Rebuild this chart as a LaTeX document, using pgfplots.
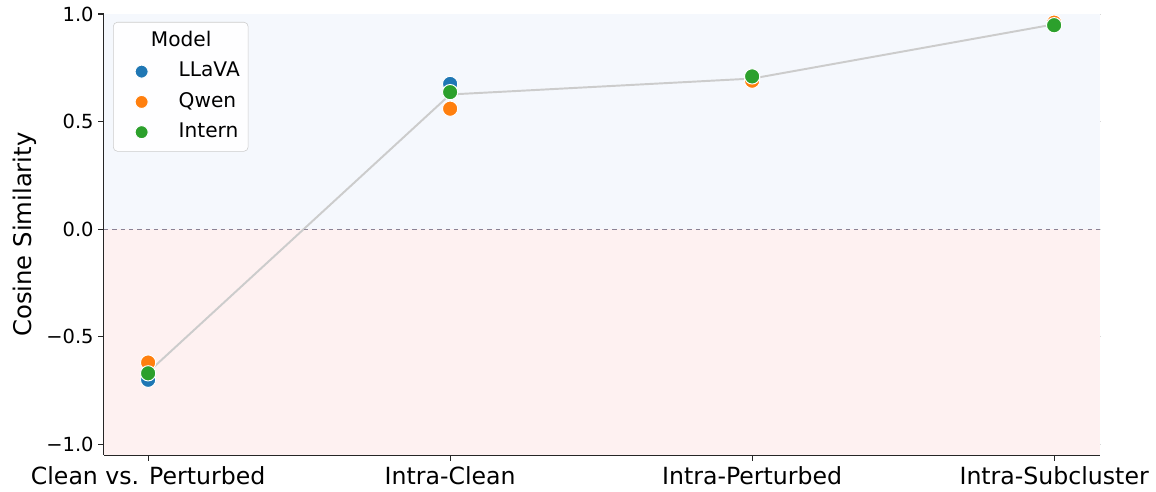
\documentclass[border=0pt]{standalone}
\usepackage{fontspec}
\setmainfont{DejaVu Sans}
\usepackage{pgfplots}
\pgfplotsset{compat=1.18}
\definecolor{cLL}{HTML}{1F77B4}
\definecolor{cQW}{HTML}{FF7F0E}
\definecolor{cIN}{HTML}{2CA02C}
\definecolor{bgblue}{HTML}{F5F8FD}
\definecolor{bgpink}{HTML}{FEF1F1}
\definecolor{zline}{HTML}{8A8295}
\definecolor{meanline}{HTML}{CCCCCC}
\pgfplotsset{mylegimg/.style={legend image code/.code={\draw[##1, mark size=4.7pt] plot coordinates {(0pt,0pt)}; \path (-16.2pt,0pt);}}}
\begin{document}
\begin{tikzpicture}
\begin{axis}[
  name=ax,
  scale only axis,
  width=717pt, height=317.5pt,
  xmin=-0.146, xmax=3.152,
  ymin=-1.05, ymax=1.0,
  axis lines*=left,
  axis line style={black!85, line width=0.9pt},
  xtick={0,1,2,3},
  xticklabels={Clean vs. Perturbed, Intra-Clean, Intra-Perturbed, Intra-Subcluster},
  ytick={-1,-0.5,0,0.5,1},
  yticklabels={−1.0,−0.5,0.0,0.5,1.0},
  /pgf/number format/assume math mode=true,
  tick align=outside,
  major tick length=4pt,
  tick style={black!85, line width=0.9pt},
  xticklabel style={font=\fontsize{17}{19}\selectfont, yshift=-1pt},
  yticklabel style={font=\fontsize{14}{16}\selectfont},
  ylabel={Cosine Similarity},
  ylabel style={font=\fontsize{17.5}{19}\selectfont},
  ymajorgrids,
  grid style={densely dotted, black!15, line width=0.5pt},
  clip=false,
  legend style={at={(0.009,0.982)}, anchor=north west, draw=black!20, rounded corners=3pt,
    fill=white!85!bgblue,
    font=\fontsize{14.5}{16}\selectfont, row sep=4.3pt, inner xsep=4pt, inner ysep=5pt,
    nodes={inner sep=2pt, text height=10.5pt, text depth=3pt}},
  legend cell align=left,
]
\fill[bgblue] (axis cs:-0.146,0) rectangle (axis cs:3.152,1.0);
\fill[bgpink] (axis cs:-0.146,-1.05) rectangle (axis cs:3.152,0);
\addlegendimage{empty legend}\addlegendentry{Model}
\addplot[meanline, line width=1.4pt, forget plot] coordinates {(0,-0.665) (1,0.626) (2,0.70) (3,0.952)};
\draw[zline, dashed, line width=0.8pt] (axis cs:-0.146,0) -- (axis cs:3.152,0);
\addplot[only marks, mylegimg, mark=*, mark size=5.5pt, mark options={fill=cLL, draw=white, line width=0.7pt}] coordinates {(0,-0.70) (1,0.675) (2,0.705) (3,0.95)};
\addlegendentry{\hspace*{20pt}LLaVA}
\addplot[only marks, mylegimg, mark=*, mark size=5.5pt, mark options={fill=cQW, draw=white, line width=0.7pt}] coordinates {(0,-0.62) (1,0.56) (2,0.69) (3,0.96)};
\addlegendentry{\hspace*{20pt}Qwen}
\addplot[only marks, mylegimg, mark=*, mark size=5.5pt, mark options={fill=cIN, draw=white, line width=0.7pt}] coordinates {(0,-0.67) (1,0.637) (2,0.71) (3,0.948)};
\addlegendentry{\hspace*{20pt}Intern}
\end{axis}
\pgfresetboundingbox
\path ([shift={(-74.9pt,-25.9pt)}]ax.south west) rectangle ([shift={(40.3pt,10.1pt)}]ax.north east);
\end{tikzpicture}
\end{document}
